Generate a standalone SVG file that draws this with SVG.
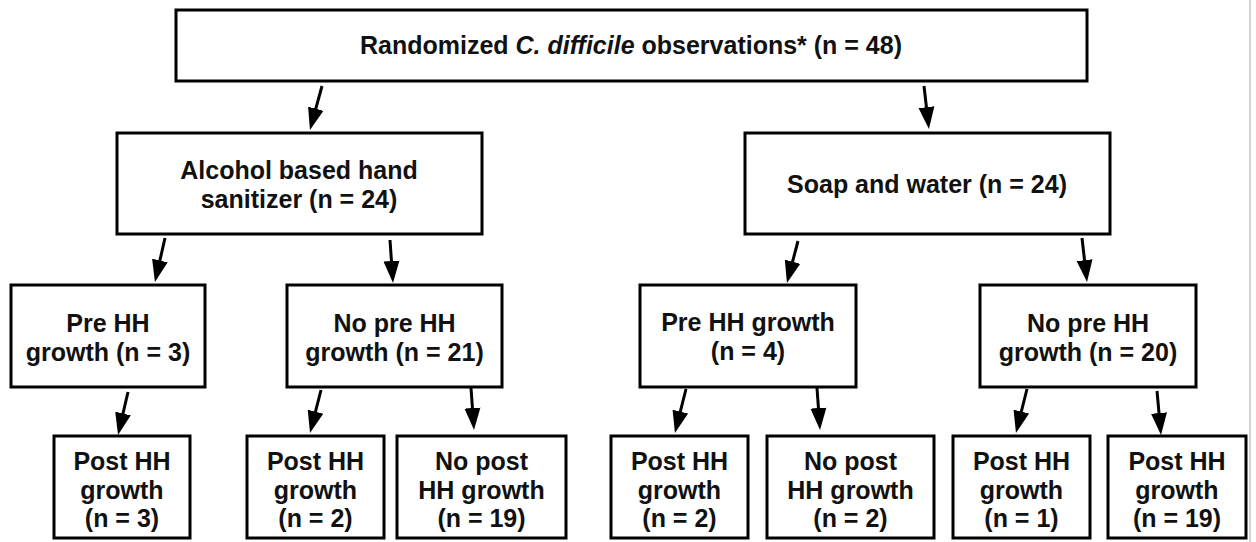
<svg xmlns="http://www.w3.org/2000/svg" width="1256" height="542" viewBox="0 0 1256 542">
<style>
.box{fill:#fff;stroke:#000;stroke-width:3}
.t{font-family:"Liberation Sans",Arial,sans-serif;font-weight:bold;font-size:25px;fill:#111;text-anchor:middle}
.c{stroke:#000;stroke-width:3;fill:none;marker-end:url(#ah)}
</style>
<defs>
<marker id="ah" markerUnits="userSpaceOnUse" markerWidth="24" markerHeight="18" viewBox="0 -9 24 18" refX="12" refY="0" orient="auto"><path d="M0,-8 L22,0 L0,8 z" fill="#000"/></marker>
</defs>
<rect width="1256" height="542" fill="#fff"/>
<line x1="1250" y1="0" x2="1250" y2="542" stroke="#d4d4d4" stroke-width="2"/>
<g id="connectors">
<line class="c" x1="322" y1="86" x2="312.6" y2="120.3"/>
<line class="c" x1="924" y1="86" x2="927.8" y2="119.1"/>
<line class="c" x1="165" y1="238" x2="157.2" y2="272.2"/>
<line class="c" x1="390" y1="240" x2="392.3" y2="273"/>
<line class="c" x1="798" y1="241" x2="789.5" y2="273.3"/>
<line class="c" x1="1082" y1="238" x2="1085.9" y2="272.1"/>
<line class="c" x1="128" y1="392" x2="120.3" y2="425.2"/>
<line class="c" x1="321" y1="390" x2="312.5" y2="423.3"/>
<line class="c" x1="471" y1="388" x2="473.3" y2="420"/>
<line class="c" x1="686" y1="389" x2="677.4" y2="423.3"/>
<line class="c" x1="817" y1="388" x2="819.3" y2="420"/>
<line class="c" x1="1027" y1="389" x2="1018.4" y2="423.3"/>
<line class="c" x1="1157" y1="391" x2="1160.1" y2="425"/>
</g>
<g id="root"><rect class="box" x="176" y="10" width="911" height="71"/><text class="t" x="631" y="54">Randomized <tspan font-style="italic">C. difficile</tspan> observations* (n = 48)</text></g>
<g id="alcohol"><rect class="box" x="117" y="133" width="365" height="101"/><text class="t" x="299" y="179">Alcohol based hand</text><text class="t" x="299" y="208">sanitizer (n = 24)</text></g>
<g id="soap"><rect class="box" x="745" y="133" width="365" height="101"/><text class="t" x="927" y="193">Soap and water (n = 24)</text></g>
<g id="abhs-pre"><rect class="box" x="11" y="285" width="194" height="102"/><text class="t" x="108" y="332">Pre HH</text><text class="t" x="108" y="360.5">growth (n = 3)</text></g>
<g id="abhs-nopre"><rect class="box" x="287" y="285" width="215" height="102"/><text class="t" x="394.5" y="332">No pre HH</text><text class="t" x="394.5" y="360.5">growth (n = 21)</text></g>
<g id="sw-pre"><rect class="box" x="640" y="285" width="216" height="102"/><text class="t" x="748" y="331">Pre HH growth</text><text class="t" x="748" y="359.5">(n = 4)</text></g>
<g id="sw-nopre"><rect class="box" x="980" y="285" width="216" height="102"/><text class="t" x="1088" y="332">No pre HH</text><text class="t" x="1088" y="360.5">growth (n = 20)</text></g>
<g id="a-post"><rect class="box" x="54" y="436" width="136" height="102"/><text class="t" x="122" y="470">Post HH</text><text class="t" x="122" y="499">growth</text><text class="t" x="122" y="527">(n = 3)</text></g>
<g id="b-post"><rect class="box" x="247" y="436" width="137" height="102"/><text class="t" x="315.5" y="470">Post HH</text><text class="t" x="315.5" y="499">growth</text><text class="t" x="315.5" y="527">(n = 2)</text></g>
<g id="c-nopost"><rect class="box" x="397" y="436" width="169" height="102"/><text class="t" x="481.5" y="470">No post</text><text class="t" x="481.5" y="499">HH growth</text><text class="t" x="481.5" y="527">(n = 19)</text></g>
<g id="d-post"><rect class="box" x="611" y="436" width="137" height="102"/><text class="t" x="679.5" y="470">Post HH</text><text class="t" x="679.5" y="499">growth</text><text class="t" x="679.5" y="527">(n = 2)</text></g>
<g id="e-nopost"><rect class="box" x="767" y="436" width="167" height="102"/><text class="t" x="850.5" y="470">No post</text><text class="t" x="850.5" y="499">HH growth</text><text class="t" x="850.5" y="527">(n = 2)</text></g>
<g id="f-post"><rect class="box" x="953" y="436" width="137" height="102"/><text class="t" x="1021.5" y="470">Post HH</text><text class="t" x="1021.5" y="499">growth</text><text class="t" x="1021.5" y="527">(n = 1)</text></g>
<g id="g-post"><rect class="box" x="1108" y="436" width="138" height="102"/><text class="t" x="1177" y="470">Post HH</text><text class="t" x="1177" y="499">growth</text><text class="t" x="1177" y="527">(n = 19)</text></g>
</svg>
